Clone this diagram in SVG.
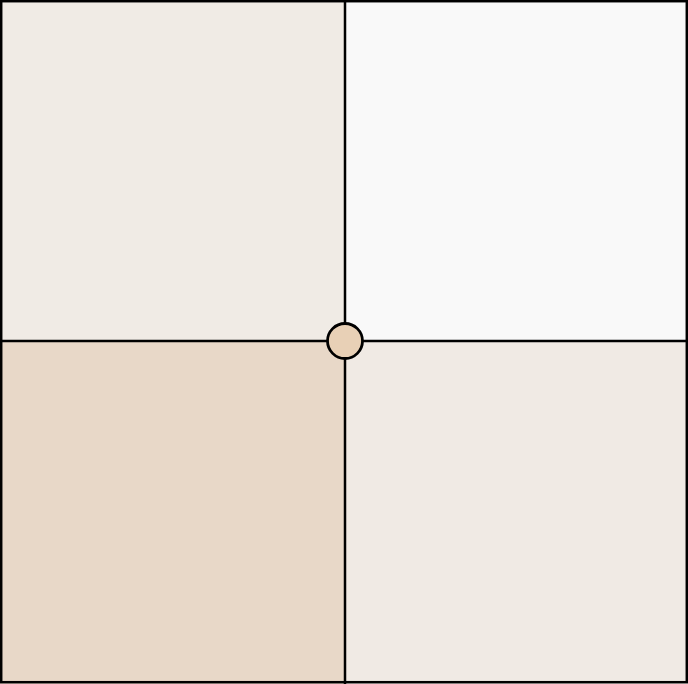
<svg xmlns="http://www.w3.org/2000/svg" width="688" height="684" viewBox="0 0 688 684">
<style>
.q{stroke:none}
.ln{stroke:#000;stroke-width:2.5;fill:none}
</style>
<g id="quadrant-tl"><rect class="q" x="0" y="0" width="345" height="341" fill="#F0EBE5"/></g>
<g id="quadrant-tr"><rect class="q" x="345" y="0" width="343" height="341" fill="#F9F9F9"/></g>
<g id="quadrant-bl"><rect class="q" x="0" y="341" width="345" height="343" fill="#E8D8C8"/></g>
<g id="quadrant-br"><rect class="q" x="345" y="341" width="343" height="343" fill="#F0EAE4"/></g>
<g id="connectors">
<line class="ln" x1="345" y1="0" x2="345" y2="684"/>
<line class="ln" x1="0" y1="341" x2="688" y2="341"/>
</g>
<g id="frame"><rect class="ln" x="1.2" y="1.2" width="685.6" height="681" /></g>
<g id="center-node"><circle cx="345" cy="341" r="17.5" fill="#E8D0B6" stroke="#000" stroke-width="2.8"/></g>
</svg>
